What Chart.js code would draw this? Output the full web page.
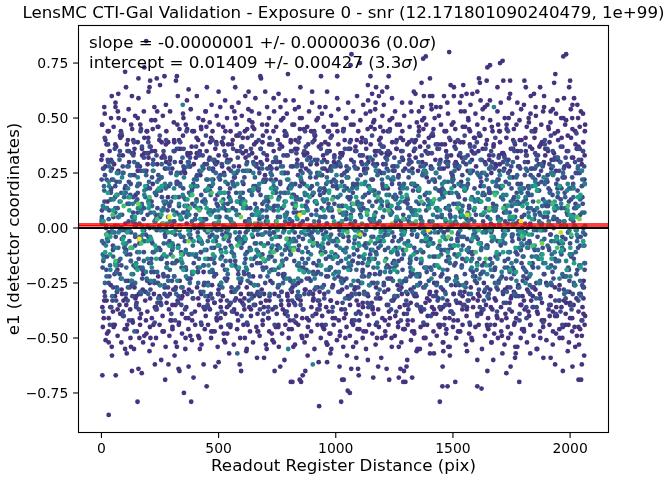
<!DOCTYPE html>
<html>
<head>
<meta charset="utf-8">
<script src="https://cdn.jsdelivr.net/npm/chart.js@4.4.1/dist/chart.umd.min.js"></script>
<style>
    html, body { margin: 0; background: #ffffff; }
    canvas { display: block; }
</style>
</head>
<body>
<canvas id="cti-chart" width="669" height="482"></canvas>
<script>
// Points are stored as flat pairs: readout distance (pix), e1 x 100.
// Grouped by the colour bin they show in the picture.

const tailHigh = [
    191,85, 1484,80, 1983,79, 1067,79, 1384,78, 1971,78, 1373,77, 1658,74, 1712,76, 1647,73, 1701,75, 1063,74, 1103,75, 101,71, 183,73,
    158,68, 208,67, 236,68, 269,69, 322,69, 561,68, 678,69, 681,68, 796,70, 937,69, 1006,69, 1148,69, 1226,69, 1402,68, 1366,66, 1611,68,
    1615,66, 1644,67, 1715,67, 1744,67, 1805,67, 1937,70, 1932,66, 2000,67, 318,67,
    105,64, 205,64, 250,65, 372,63, 450,64, 500,62, 571,64, 628,62, 699,62, 756,61, 849,64, 899,62, 963,62, 1137,65, 1172,64, 1219,64,
    1490,65, 1504,64, 1544,65, 1811,64, 1872,64, 1996,64, 1690,64, 1583,61, 1604,62, 1744,61, 1846,61, 1198,62, 1333,62, 1340,61, 1412,60,
    72,61, 201,62, 1155,61,
    44,60, 130,60, 158,59, 326,60, 365,58, 407,60, 528,58, 614,60, 657,59, 707,55, 785,58, 842,55, 899,57, 956,55, 1006,59, 1462,60,
    1537,60, 1558,61, 1091,60, 1138,58, 1184,60, 1376,60, 1402,60, 1504,60, 1658,58, 1704,57, 1739,59, 1775,57, 1832,60, 1889,60, 1946,58,
    1974,59, 2017,59, 2031,56, 1053,57, 1117,56, 1170,57, 1205,56, 1283,57, 1319,57, 1369,55, 1407,56, 1447,55, 1476,57, 1530,57, 1575,56,
    1618,58, 1647,56, 1803,56, 1853,55, 1889,55, 2010,56, 12,55, 60,57, 275,56, 470,56, 585,57, 735,59, 820,58, 1240,59, 1917,53, 2046,53,
    3,47, 14,52, 27,44, 41,50, 52,46, 70,53, 83,44, 97,49, 116,54, 131,45, 144,51, 166,47, 181,53, 195,44, 213,49, 226,55, 240,46, 262,51,
    277,44, 293,53, 309,48, 333,45, 348,52, 360,47, 381,54, 395,44, 414,50, 425,46, 444,53, 462,48, 474,44, 492,51, 507,55, 519,46, 536,50,
    551,44, 567,53, 578,47, 599,51, 612,44, 627,54, 644,48, 652,45, 673,52, 686,47, 705,44, 715,50, 737,53, 746,46, 767,49, 782,44, 791,52,
    815,47, 826,54, 847,45, 855,50, 878,46, 886,53, 908,44, 918,49, 941,52, 949,46, 971,44, 980,51, 1002,47, 1011,54, 1033,45, 1043,50,
    1065,47, 1074,53, 1096,44, 1105,49, 1128,52, 1136,45, 1160,48, 1168,54, 1190,46, 1199,51, 1222,44, 1230,49, 1253,53, 1261,47, 1284,44,
    1292,51, 1315,46, 1323,53, 1346,48, 1355,44, 1377,50, 1386,47, 1409,54, 1417,45, 1440,51, 1449,47, 1471,44, 1479,52, 1502,48, 1510,45,
    1534,53, 1542,46, 1565,50, 1573,44, 1596,52, 1604,47, 1627,54, 1635,45, 1659,49, 1666,46, 1690,53, 1698,44, 1721,50, 1729,47, 1753,52,
    1760,45, 1784,49, 1791,54, 1815,46, 1823,50, 1846,44, 1854,51, 1877,47, 1885,53, 1909,45, 1916,48, 1940,52, 1948,44, 1971,50, 1979,47,
    2003,54, 2010,45, 2034,50, 2041,46, 2055,52, 2063,44
];

const tailLow = [
    31,-85, 154,-79, 352,-75, 383,-79, 449,-72, 272,-69, 815,-70, 852,-70, 929,-81, 1023,-79, 1060,-75, 1034,-69, 1297,-70, 1444,-79,
    1455,-72, 1477,-72, 1510,-70, 1604,-72, 1622,-73, 1783,-70, 2047,-69, 1051,-74,
    4,-67, 61,-67, 393,-68, 130,-65, 158,-64, 172,-66, 228,-62, 255,-60, 286,-62, 329,-64, 333,-65, 372,-63, 436,-62, 486,-63, 500,-61,
    590,-62, 596,-65, 739,-65, 763,-63, 808,-70, 846,-69, 859,-67, 870,-65, 1027,-69, 1016,-63, 927,-61, 963,-61, 2036,-69, 2050,-62,
    2010,-63, 1969,-65, 1936,-62, 1728,-66, 1746,-63, 1647,-65, 1456,-63, 1326,-68, 1288,-70, 1269,-68, 1228,-69, 1160,-68, 1098,-67,
    1066,-64, 1095,-64, 1137,-60, 1181,-63, 1217,-64, 1276,-64, 1291,-65, 1302,-63,
    664,-59, 694,-59, 781,-60, 977,-57, 981,-55, 1305,-60, 1604,-60, 1672,-60, 1711,-57, 1765,-59, 1768,-57, 1917,-59, 1886,-59, 1345,-56,
    1359,-55, 1402,-57, 1419,-57, 1459,-56, 1487,-58, 1048,-58, 1088,-59, 1194,-59, 101,-55, 108,-57, 45,-58, 205,-56, 312,-58, 420,-55,
    545,-57, 618,-56, 705,-55, 880,-58, 1560,-56, 1830,-57, 1990,-56, 2060,-58, 1480,-54, 963,-53,
    6,-45, 18,-51, 30,-47, 44,-54, 57,-44, 69,-49, 85,-52, 99,-46, 110,-44, 124,-50, 139,-55, 151,-47, 165,-44, 178,-52, 192,-48, 207,-45,
    219,-53, 233,-50, 248,-44, 261,-47, 274,-54, 290,-49, 303,-45, 317,-52, 330,-44, 344,-48, 358,-55, 371,-46, 386,-51, 400,-44, 413,-49,
    427,-53, 441,-46, 455,-44, 468,-50, 483,-47, 496,-54, 510,-45, 523,-51, 537,-48, 551,-44, 565,-53, 579,-46, 592,-50, 606,-44, 620,-55,
    634,-47, 647,-52, 661,-45, 675,-49, 688,-44, 702,-53, 716,-47, 730,-51, 744,-45, 757,-54, 771,-48, 785,-44, 799,-50, 812,-46, 826,-53,
    840,-44, 854,-49, 867,-52, 881,-45, 895,-47, 909,-55, 922,-44, 936,-50, 950,-46, 964,-53, 977,-48, 991,-44, 1005,-51, 1019,-47,
    1032,-54, 1046,-45, 1060,-49, 1074,-44, 1087,-52, 1101,-46, 1115,-50, 1129,-55, 1142,-44, 1156,-48, 1170,-53, 1184,-45, 1197,-50,
    1211,-47, 1225,-44, 1239,-54, 1252,-49, 1266,-45, 1280,-52, 1294,-46, 1307,-44, 1321,-51, 1335,-48, 1349,-55, 1362,-45, 1376,-50,
    1390,-44, 1404,-53, 1417,-47, 1431,-49, 1445,-44, 1459,-52, 1472,-46, 1486,-54, 1500,-45, 1514,-50, 1527,-47, 1541,-44, 1555,-53,
    1569,-48, 1582,-51, 1596,-45, 1610,-44, 1624,-55, 1637,-49, 1651,-46, 1665,-52, 1679,-44, 1692,-50, 1706,-47, 1720,-53, 1734,-45,
    1747,-48, 1761,-44, 1775,-54, 1789,-50, 1802,-46, 1816,-52, 1830,-44, 1844,-49, 1857,-55, 1871,-47, 1885,-45, 1899,-51, 1912,-44,
    1926,-53, 1940,-48, 1954,-46, 1967,-50, 1981,-44, 1995,-52, 2009,-47, 2022,-54, 2036,-45, 2050,-49, 2062,-44
];

const corePurple = [
    0,31, 4,-36, 9,27, 13,-29, 17,40, 22,-33, 26,12, 31,-41, 35,35, 40,-26, 45,22, 49,-38, 54,29, 58,-31, 63,37, 68,-19, 72,26, 77,-35, 81,41, 86,-28,
    91,33, 95,-40, 100,18, 104,-32, 109,38, 114,-24, 118,30, 123,-37, 127,24, 132,-42, 137,34, 141,-27, 146,15, 150,-34, 155,39, 160,-30, 164,28, 169,-39, 173,36, 178,-21,
    183,41, 187,-33, 192,26, 196,-38, 201,32, 206,-25, 210,37, 215,-41, 219,20, 224,-30, 229,35, 233,-36, 238,29, 242,-22, 247,40, 252,-34, 256,23, 261,-40, 265,33, 270,-27,
    275,38, 279,-31, 284,14, 288,-37, 293,31, 298,-42, 302,27, 307,-28, 311,39, 316,-35, 321,21, 325,-33, 330,36, 334,-24, 339,30, 344,-39, 348,42, 353,-29, 357,25, 362,-36,
    367,34, 371,-41, 376,28, 380,-23, 385,37, 390,-32, 394,19, 399,-38, 403,32, 408,-27, 413,40, 417,-35, 422,24, 426,-30, 431,38, 436,-20, 440,29, 445,-40, 449,35, 454,-33,
    459,27, 463,-37, 468,41, 472,-26, 477,22, 482,-34, 486,36, 491,-41, 495,30, 500,-28, 505,16, 509,-36, 514,39, 518,-31, 523,25, 528,-39, 532,33, 537,-23, 541,38, 546,-35,
    551,31, 555,-29, 560,40, 564,-38, 569,23, 574,-32, 578,35, 583,-42, 587,28, 592,-25, 597,37, 601,-34, 606,20, 610,-37, 615,32, 620,-27, 624,41, 629,-30, 633,26, 638,-40,
    643,34, 647,-22, 652,38, 656,-35, 661,29, 666,-39, 670,17, 675,-31, 679,36, 684,-28, 689,42, 693,-36, 698,24, 702,-33, 707,31, 712,-41, 716,38, 721,-24, 725,27, 730,-37,
    735,35, 739,-30, 744,22, 748,-39, 753,40, 758,-26, 762,30, 767,-35, 771,37, 776,-21, 781,25, 785,-38, 790,33, 794,-31, 799,18, 804,-42, 808,39, 813,-29, 817,28, 822,-34,
    827,36, 831,-40, 836,31, 840,-25, 845,41, 850,-33, 854,21, 859,-37, 863,34, 868,-28, 873,27, 877,-41, 882,38, 886,-23, 891,32, 896,-36, 900,15, 905,-32, 909,40, 914,-39,
    919,29, 923,-27, 928,37, 932,-35, 937,24, 942,-40, 946,33, 951,-30, 955,39, 960,-22, 965,26, 969,-38, 974,35, 978,-33, 983,42, 988,-26, 992,30, 997,-41, 1001,21, 1006,-34,
    1011,38, 1015,-29, 1020,28, 1024,-37, 1029,34, 1034,-24, 1038,40, 1043,-39, 1047,23, 1052,-31, 1057,36, 1061,-35, 1066,31, 1070,-42, 1075,19, 1080,-28, 1084,37, 1089,-33, 1093,27, 1098,-38,
    1103,33, 1107,-25, 1112,41, 1116,-36, 1121,26, 1126,-30, 1130,36, 1135,-40, 1139,30, 1144,-21, 1149,38, 1153,-34, 1158,22, 1162,-39, 1167,35, 1172,-27, 1176,29, 1181,-37, 1185,40, 1190,-32,
    1195,25, 1199,-41, 1204,37, 1208,-29, 1213,32, 1218,-35, 1222,18, 1227,-38, 1231,34, 1236,-23, 1241,39, 1245,-33, 1250,28, 1254,-40, 1259,36, 1264,-26, 1268,24, 1273,-36, 1277,41, 1282,-30,
    1287,31, 1291,-39, 1296,27, 1300,-24, 1305,38, 1310,-37, 1314,33, 1319,-28, 1323,20, 1328,-42, 1333,35, 1337,-31, 1342,40, 1346,-35, 1351,26, 1356,-22, 1360,37, 1365,-38, 1369,30, 1374,-27,
    1379,39, 1383,-34, 1388,23, 1392,-40, 1397,34, 1402,-29, 1406,28, 1411,-36, 1415,42, 1420,-25, 1425,31, 1429,-39, 1434,36, 1438,-32, 1443,17, 1448,-37, 1452,38, 1457,-28, 1461,27, 1466,-41,
    1471,35, 1475,-23, 1480,30, 1484,-35, 1489,40, 1494,-38, 1498,24, 1503,-30, 1507,37, 1512,-26, 1517,29, 1521,-42, 1526,33, 1530,-34, 1535,21, 1540,-37, 1544,39, 1549,-29, 1553,32, 1558,-40,
    1563,26, 1567,-33, 1572,38, 1576,-27, 1581,31, 1586,-36, 1590,41, 1595,-22, 1599,28, 1604,-39, 1609,35, 1613,-31, 1618,19, 1622,-38, 1627,36, 1632,-25, 1636,30, 1641,-35, 1645,40, 1650,-41,
    1655,33, 1659,-28, 1664,25, 1668,-37, 1673,37, 1678,-32, 1682,29, 1687,-40, 1691,22, 1696,-24, 1701,39, 1705,-36, 1710,34, 1714,-30, 1719,27, 1724,-39, 1728,41, 1733,-27, 1737,31, 1742,-34,
    1747,36, 1751,-38, 1756,23, 1760,-29, 1765,38, 1770,-41, 1774,32, 1779,-26, 1783,28, 1788,-35, 1793,40, 1797,-31, 1802,18, 1806,-37, 1811,35, 1816,-23, 1820,30, 1825,-40, 1829,37, 1834,-33,
    1839,27, 1843,-36, 1848,41, 1852,-28, 1857,33, 1862,-39, 1866,24, 1871,-30, 1875,38, 1880,-34, 1885,29, 1889,-42, 1894,36, 1898,-25, 1903,21, 1908,-37, 1912,39, 1917,-31, 1921,31, 1926,-38,
    1931,34, 1935,-27, 1940,26, 1944,-40, 1949,40, 1954,-33, 1958,30, 1963,-36, 1967,37, 1972,-22, 1977,23, 1981,-39, 1986,35, 1990,-29, 1995,28, 2000,-35, 2004,41, 2009,-41, 2013,32, 2018,-26,
    2023,38, 2027,-32, 2032,25, 2036,-38, 2041,36, 2045,-30, 2050,29, 2053,-36, 2056,39, 2059,-27, 2062,33, 2064,-40, 2061,22, 2058,-24, 2055,35, 2052,-42
];

const densePurple = [
    3,33, 10,-41, 17,28, 24,-48, 31,44, 38,-36, 45,27, 52,-45, 59,38, 66,-29, 73,50, 80,-39, 87,42, 94,-33,
    106,-35, 113,40, 120,-27, 127,47, 134,-43, 141,36, 148,-31, 155,26, 162,-50, 169,45, 176,-28, 183,34, 190,-42, 197,29,
    200,41, 208,-32, 215,35, 222,-44, 229,49, 236,-37, 243,46, 250,-26, 257,32, 264,-47, 271,27, 278,-34, 285,39, 292,-30,
    303,-35, 310,40, 317,-27, 324,47, 331,-43, 338,36, 345,-31, 352,26, 359,-50, 366,45, 373,-28, 380,34, 387,-42, 394,29,
    406,41, 413,-32, 420,35, 427,-44, 434,49, 441,-37, 448,46, 455,-26, 462,32, 469,-47, 476,27, 483,-34, 490,39, 497,-30,
    500,33, 508,-41, 515,28, 522,-48, 529,44, 536,-36, 543,27, 550,-45, 557,38, 564,-29, 571,50, 578,-39, 585,42, 592,-33,
    603,41, 610,-32, 617,35, 624,-44, 631,49, 638,-37, 645,46, 652,-26, 659,32, 666,-47, 673,27, 680,-34, 687,39, 694,-30,
    706,33, 713,-41, 720,28, 727,-48, 734,44, 741,-36, 748,27, 755,-45, 762,38, 769,-29, 776,50, 783,-39, 790,42, 797,-33,
    800,-35, 808,40, 815,-27, 822,47, 829,-43, 836,36, 843,-31, 850,26, 857,-50, 864,45, 871,-28, 878,34, 885,-42, 892,29,
    903,-33, 910,42, 917,-39, 924,50, 931,-29, 938,38, 945,-45, 952,27, 959,-36, 966,44, 973,-48, 980,28, 987,-41, 994,33,
    1006,29, 1013,-42, 1020,34, 1027,-28, 1034,45, 1041,-50, 1048,26, 1055,-31, 1062,36, 1069,-43, 1076,47, 1083,-27, 1090,40, 1097,-35,
    1100,-30, 1108,39, 1115,-34, 1122,27, 1129,-47, 1136,32, 1143,-26, 1150,46, 1157,-37, 1164,49, 1171,-44, 1178,35, 1185,-32, 1192,41,
    1203,29, 1210,-42, 1217,34, 1224,-28, 1231,45, 1238,-50, 1245,26, 1252,-31, 1259,36, 1266,-43, 1273,47, 1280,-27, 1287,40, 1294,-35,
    1306,-30, 1313,39, 1320,-34, 1327,27, 1334,-47, 1341,32, 1348,-26, 1355,46, 1362,-37, 1369,49, 1376,-44, 1383,35, 1390,-32, 1397,41,
    1400,-33, 1408,42, 1415,-39, 1422,50, 1429,-29, 1436,38, 1443,-45, 1450,27, 1457,-36, 1464,44, 1471,-48, 1478,28, 1485,-41, 1492,33,
    1503,-30, 1510,39, 1517,-34, 1524,27, 1531,-47, 1538,32, 1545,-26, 1552,46, 1559,-37, 1566,49, 1573,-44, 1580,35, 1587,-32, 1594,41,
    1606,-33, 1613,42, 1620,-39, 1627,50, 1634,-29, 1641,38, 1648,-45, 1655,27, 1662,-36, 1669,44, 1676,-48, 1683,28, 1690,-41, 1697,33,
    1700,29, 1708,-42, 1715,34, 1722,-28, 1729,45, 1736,-50, 1743,26, 1750,-31, 1757,36, 1764,-43, 1771,47, 1778,-27, 1785,40, 1792,-35,
    1803,-33, 1810,41, 1817,-28, 1824,48, 1831,-44, 1838,36, 1845,-27, 1852,45, 1859,-38, 1866,29, 1873,-50, 1880,39, 1887,-42, 1894,33,
    1906,35, 1913,-40, 1920,27, 1927,-47, 1934,43, 1941,-36, 1948,31, 1955,-26, 1962,50, 1969,-45, 1976,28, 1983,-34, 1990,42, 1997,-29,
    2000,-41, 2008,32, 2015,-35, 2022,44, 2029,-49, 2036,37, 2043,-46, 2050,26, 2057,-32, 2064,47
];

const outerPurple = [
    3,47, 12,-33, 22,38, 31,-52, 41,31, 50,-44, 60,55, 69,-37, 79,42, 88,-30,
    107,-46, 117,35, 126,-54, 136,40, 145,-32, 155,50, 164,-41, 174,33, 183,-49, 193,44,
    200,34, 209,-50, 219,45, 228,-36, 238,53, 247,-31, 257,39, 266,-47, 276,30, 295,-42,
    303,-46, 312,35, 322,-54, 331,40, 341,-32, 350,50, 360,-41, 369,33, 379,-49, 388,44,
    407,34, 417,-50, 426,45, 436,-36, 445,53, 455,-31, 464,39, 474,-47, 483,30, 493,-42,
    500,47, 509,-33, 519,38, 528,-52, 538,31, 547,-44, 557,55, 566,-37, 576,42, 595,-30,
    603,34, 612,-50, 622,45, 631,-36, 641,53, 650,-31, 660,39, 669,-47, 679,30, 688,-42,
    707,47, 717,-33, 726,38, 736,-52, 745,31, 755,-44, 764,55, 774,-37, 783,42, 793,-30,
    800,-46, 809,35, 819,-54, 828,40, 838,-32, 847,50, 857,-41, 866,33, 876,-49, 895,44,
    903,-30, 912,42, 922,-37, 931,55, 941,-44, 950,31, 960,-52, 969,38, 979,-33, 988,47,
    1007,44, 1017,-49, 1026,33, 1036,-41, 1045,50, 1055,-32, 1064,40, 1074,-54, 1083,35, 1093,-46,
    1100,-42, 1109,30, 1119,-47, 1128,39, 1138,-31, 1147,53, 1157,-36, 1166,45, 1176,-50, 1195,34,
    1203,44, 1212,-49, 1222,33, 1231,-41, 1241,50, 1250,-32, 1260,40, 1269,-54, 1279,35, 1288,-46,
    1307,-42, 1317,30, 1326,-47, 1336,39, 1345,-31, 1355,53, 1364,-36, 1374,45, 1383,-50, 1393,34,
    1400,-30, 1409,42, 1419,-37, 1428,55, 1438,-44, 1447,31, 1457,-52, 1466,38, 1476,-33, 1495,47,
    1503,-42, 1512,30, 1522,-47, 1531,39, 1541,-31, 1550,53, 1560,-36, 1569,45, 1579,-50, 1588,34,
    1607,-30, 1617,42, 1626,-37, 1636,55, 1645,-44, 1655,31, 1664,-52, 1674,38, 1683,-33, 1693,47,
    1700,44, 1709,-49, 1719,33, 1728,-41, 1738,50, 1747,-32, 1757,40, 1766,-54, 1776,35, 1795,-46,
    1803,-47, 1812,33, 1822,-38, 1831,52, 1841,-31, 1850,44, 1860,-55, 1869,37, 1879,-42, 1888,30,
    1907,46, 1917,-35, 1926,54, 1936,-40, 1945,32, 1955,-50, 1964,41, 1974,-33, 1983,49, 1993,-44,
    2000,-34, 2009,50, 2019,-45, 2028,36, 2038,-53, 2047,31, 2057,-39
];

const coreBlue = [
    2,8, 8,-15, 15,24, 21,-3, 27,31, 34,-22, 40,13, 47,-33, 53,-9, 59,19, 66,-27, 72,5, 79,35, 85,-17, 91,28, 98,-1, 104,-30, 111,11, 117,21, 123,-12,
    130,-24, 136,33, 143,2, 149,-36, 155,16, 162,-7, 168,26, 175,-19, 181,9, 187,-29, 194,34, 200,-4, 207,18, 213,-14, 219,29, 226,-25, 232,6, 239,-34, 245,22, 251,-10,
    258,14, 264,-21, 271,32, 277,-2, 283,-31, 290,10, 296,25, 303,-16, 309,3, 315,-28, 322,36, 328,-8, 335,20, 341,-35, 347,-12, 354,27, 360,7, 367,-23, 373,30, 379,-5,
    386,17, 392,-32, 399,4, 405,23, 411,-18, 418,34, 424,-11, 431,12, 437,-26, 443,-1, 450,29, 456,-36, 463,8, 469,19, 475,-20, 482,31, 488,-6, 495,15, 501,-30, 507,24,
    514,-13, 520,1, 527,33, 533,-24, 539,11, 546,-4, 552,-34, 559,21, 565,28, 571,-15, 578,6, 584,-27, 591,35, 597,-9, 603,16, 610,-21, 616,-2, 623,26, 629,-33, 635,9,
    642,-17, 648,30, 655,-7, 661,18, 667,-29, 674,4, 680,36, 687,-12, 693,22, 699,-25, 706,13, 712,-36, 719,-3, 725,27, 731,-19, 738,10, 744,32, 751,-8, 757,-31, 763,20,
    770,1, 776,-22, 783,25, 789,-14, 795,33, 802,-5, 808,-28, 815,15, 821,7, 827,-35, 834,29, 840,-10, 847,19, 853,-24, 859,3, 866,35, 872,-16, 879,12, 885,-30, 891,23,
    898,-2, 904,-20, 911,31, 917,8, 923,-33, 930,17, 936,-11, 943,27, 949,-26, 955,5, 962,34, 968,-7, 975,-18, 981,21, 987,-36, 994,11, 1000,28, 1007,-13, 1013,2, 1019,-29,
    1026,24, 1032,-4, 1039,36, 1045,-23, 1051,14, 1058,-32, 1064,6, 1071,-15, 1077,30, 1083,-1, 1090,19, 1096,-27, 1103,9, 1109,33, 1115,-19, 1122,-8, 1128,25, 1135,-34, 1141,16, 1147,-12,
    1154,3, 1160,29, 1167,-21, 1173,12, 1179,-30, 1186,35, 1192,-6, 1199,20, 1205,-25, 1211,-3, 1218,27, 1224,-35, 1231,10, 1237,22, 1243,-16, 1250,32, 1256,-9, 1263,4, 1269,-28, 1275,18,
    1282,-14, 1288,26, 1295,-1, 1301,-33, 1307,13, 1314,31, 1320,-20, 1327,7, 1333,-27, 1339,36, 1346,-11, 1352,17, 1359,-36, 1365,2, 1371,24, 1378,-18, 1384,29, 1391,-6, 1397,-24, 1403,11,
    1410,34, 1416,-13, 1423,21, 1429,-31, 1435,5, 1442,27, 1448,-22, 1455,15, 1461,-2, 1467,-35, 1474,32, 1480,-10, 1487,8, 1493,-26, 1499,23, 1506,-17, 1512,36, 1519,-5, 1525,14, 1531,-29,
    1538,1, 1544,30, 1551,-21, 1557,18, 1563,-33, 1570,9, 1576,25, 1583,-12, 1589,-4, 1595,34, 1602,-25, 1608,13, 1615,-36, 1621,21, 1627,6, 1634,-16, 1640,29, 1647,-8, 1653,-30, 1659,16,
    1666,-1, 1672,33, 1679,-19, 1685,10, 1691,-28, 1698,26, 1704,-7, 1711,19, 1717,-34, 1723,3, 1730,31, 1736,-14, 1743,23, 1749,-23, 1755,-3, 1762,35, 1768,-11, 1775,12, 1781,-31, 1787,27,
    1794,5, 1800,-18, 1807,30, 1813,-36, 1819,16, 1826,-6, 1832,24, 1839,-27, 1845,8, 1851,34, 1858,-13, 1864,20, 1871,-32, 1877,-1, 1883,28, 1890,-21, 1896,11, 1903,36, 1909,-9, 1915,17,
    1922,-26, 1928,4, 1935,32, 1941,-15, 1947,22, 1954,-33, 1960,13, 1967,-4, 1973,27, 1979,-22, 1986,7, 1992,35, 1999,-12, 2005,18, 2011,-30, 2018,1, 2024,25, 2031,-19, 2037,31, 2043,-8,
    2050,14, 2056,-27, 2062,20, 2064,-3
];

const denseBlue = [
    1,3, 5,-18, 7,27, 10,-7, 13,12, 15,-31, 20,0, 22,22, 24,-13, 28,38, 31,-25, 33,8, 38,-2, 40,17, 42,-36, 46,30, 49,-10, 51,5, 56,-21, 58,14, 61,-4, 64,21, 67,-29, 69,9, 74,-15, 76,33, 79,-1, 83,-23, 85,16, 88,6, 92,-38, 94,25, 98,-9,
    102,2, 103,19, 108,-12, 111,28, 112,-33, 117,11, 119,-6, 123,15, 126,-2, 129,-26, 130,34, 135,7, 137,-17, 141,24, 144,-8, 147,1, 148,-35, 153,13, 155,29, 159,-14, 162,-5, 163,20, 168,-30, 171,10, 173,37, 177,-19, 180,4, 181,-11, 186,26, 189,-3, 191,18, 195,-24, 197,6,
    200,39, 204,-16, 206,0, 209,-28, 214,12, 216,23, 218,-7, 221,31, 225,-20, 227,3, 232,-37, 234,15, 236,-1, 239,9, 243,24, 245,-9, 250,5, 252,-32, 254,17, 257,-14, 260,2, 265,35, 266,-22, 270,11, 272,-4, 275,27, 278,-18, 282,8, 284,-27, 287,19, 290,-6, 293,32, 296,-12,
    301,1, 305,-8, 307,14, 310,-22, 313,30, 315,-3, 320,7, 322,-15, 324,21, 328,-34, 331,10, 333,-1, 338,25, 340,-11, 342,4, 346,-27, 349,18, 351,36, 356,-6, 358,13, 361,-19, 364,2, 367,-30, 369,8, 374,16, 376,-12, 379,28, 383,-5, 385,-39, 388,11, 392,20, 394,-16, 398,0,
    402,-13, 403,6, 408,24, 411,-2, 412,-20, 417,33, 419,9, 423,-29, 426,15, 429,-7, 430,1, 435,27, 437,-17, 441,-36, 444,12, 447,4, 448,-10, 453,22, 455,-25, 459,31, 462,-4, 463,17, 468,-14, 471,7, 473,-32, 477,26, 480,2, 481,-9, 486,13, 489,-21, 491,38, 495,-1, 497,10,
    500,5, 504,-26, 506,18, 509,-10, 514,29, 516,-3, 518,-17, 521,11, 525,35, 527,-23, 532,0, 534,8, 536,-33, 539,20, 543,-6, 545,14, 550,-15, 552,26, 554,3, 557,-38, 560,9, 565,-12, 566,23, 570,1, 572,-28, 575,16, 578,-5, 582,32, 584,-19, 587,6, 590,-2, 593,12, 596,-24,
    601,-7, 605,13, 607,-35, 610,23, 613,3, 615,-14, 620,9, 622,30, 624,-1, 628,-21, 631,17, 633,-9, 638,36, 640,-30, 642,6, 646,-4, 649,19, 651,-26, 656,11, 658,0, 661,28, 664,-16, 667,2, 669,-11, 674,25, 676,-37, 679,15, 683,-3, 685,8, 688,-18, 692,34, 694,-8, 698,21,
    702,3, 703,-18, 708,27, 711,-7, 712,12, 717,-31, 719,0, 723,22, 726,-13, 729,38, 730,-25, 735,8, 737,-2, 741,17, 744,-36, 747,30, 748,-10, 753,5, 755,-21, 759,14, 762,-4, 763,21, 768,-29, 771,9, 773,-15, 777,33, 780,-1, 781,-23, 786,16, 789,6, 791,-38, 795,25, 797,-9,
    800,2, 804,19, 806,-12, 809,28, 814,-33, 816,11, 818,-6, 821,15, 825,-2, 827,-26, 832,34, 834,7, 836,-17, 839,24, 843,-8, 845,1, 850,-35, 852,13, 854,29, 857,-14, 860,-5, 865,20, 866,-30, 870,10, 872,37, 875,-19, 878,4, 882,-11, 884,26, 887,-3, 890,18, 893,-24, 896,6,
    901,39, 905,-16, 907,0, 910,-28, 913,12, 915,23, 920,-7, 922,31, 924,-20, 928,3, 931,-37, 933,15, 938,-1, 940,9, 942,24, 946,-9, 949,5, 951,-32, 956,17, 958,-14, 961,2, 964,35, 967,-22, 969,11, 974,-4, 976,27, 979,-18, 983,8, 985,-27, 988,19, 992,-6, 994,32, 998,-12,
    1002,1, 1003,-8, 1008,14, 1011,-22, 1012,30, 1017,-3, 1019,7, 1023,-15, 1026,21, 1029,-34, 1030,10, 1035,-1, 1037,25, 1041,-11, 1044,4, 1047,-27, 1048,18, 1053,36, 1055,-6, 1059,13, 1062,-19, 1063,2, 1068,-30, 1071,8, 1073,16, 1077,-12, 1080,28, 1081,-5, 1086,-39, 1089,11, 1091,20, 1095,-16, 1097,0,
    1100,-13, 1104,6, 1106,24, 1109,-2, 1114,-20, 1116,33, 1118,9, 1121,-29, 1125,15, 1127,-7, 1132,1, 1134,27, 1136,-17, 1139,-36, 1143,12, 1145,4, 1150,-10, 1152,22, 1154,-25, 1157,31, 1160,-4, 1165,17, 1166,-14, 1170,7, 1172,-32, 1175,26, 1178,2, 1182,-9, 1184,13, 1187,-21, 1190,38, 1193,-1, 1196,10,
    1201,5, 1205,-26, 1207,18, 1210,-10, 1213,29, 1215,-3, 1220,-17, 1222,11, 1224,35, 1228,-23, 1231,0, 1233,8, 1238,-33, 1240,20, 1242,-6, 1246,14, 1249,-15, 1251,26, 1256,3, 1258,-38, 1261,9, 1264,-12, 1267,23, 1269,1, 1274,-28, 1276,16, 1279,-5, 1283,32, 1285,-19, 1288,6, 1292,-2, 1294,12, 1298,-24,
    1302,-7, 1303,13, 1308,-35, 1311,23, 1312,3, 1317,-14, 1319,9, 1323,30, 1326,-1, 1329,-21, 1330,17, 1335,-9, 1337,36, 1341,-30, 1344,6, 1347,-4, 1348,19, 1353,-26, 1355,11, 1359,0, 1362,28, 1363,-16, 1368,2, 1371,-11, 1373,25, 1377,-37, 1380,15, 1381,-3, 1386,8, 1389,-18, 1391,34, 1395,-8, 1397,21,
    1400,3, 1404,-18, 1406,27, 1409,-7, 1414,12, 1416,-31, 1418,0, 1421,22, 1425,-13, 1427,38, 1432,-25, 1434,8, 1436,-2, 1439,17, 1443,-36, 1445,30, 1450,-10, 1452,5, 1454,-21, 1457,14, 1460,-4, 1465,21, 1466,-29, 1470,9, 1472,-15, 1475,33, 1478,-1, 1482,-23, 1484,16, 1487,6, 1490,-38, 1493,25, 1496,-9,
    1501,2, 1505,19, 1507,-12, 1510,28, 1513,-33, 1515,11, 1520,-6, 1522,15, 1524,-2, 1528,-26, 1531,34, 1533,7, 1538,-17, 1540,24, 1542,-8, 1546,1, 1549,-35, 1551,13, 1556,29, 1558,-14, 1561,-5, 1564,20, 1567,-30, 1569,10, 1574,37, 1576,-19, 1579,4, 1583,-11, 1585,26, 1588,-3, 1592,18, 1594,-24, 1598,6,
    1602,39, 1603,-16, 1608,0, 1611,-28, 1612,12, 1617,23, 1619,-7, 1623,31, 1626,-20, 1629,3, 1630,-37, 1635,15, 1637,-1, 1641,9, 1644,24, 1647,-9, 1648,5, 1653,-32, 1655,17, 1659,-14, 1662,2, 1663,35, 1668,-22, 1671,11, 1673,-4, 1677,27, 1680,-18, 1681,8, 1686,-27, 1689,19, 1691,-6, 1695,32, 1697,-12,
    1700,1, 1704,-8, 1706,14, 1709,-22, 1714,30, 1716,-3, 1718,7, 1721,-15, 1725,21, 1727,-34, 1732,10, 1734,-1, 1736,25, 1739,-11, 1743,4, 1745,-27, 1750,18, 1752,36, 1754,-6, 1757,13, 1760,-19, 1765,2, 1766,-30, 1770,8, 1772,16, 1775,-12, 1778,28, 1782,-5, 1784,-39, 1787,11, 1790,20, 1793,-16, 1796,0,
    1801,-13, 1805,6, 1807,24, 1810,-2, 1813,-20, 1815,33, 1820,9, 1822,-29, 1824,15, 1828,-7, 1831,1, 1833,27, 1838,-17, 1840,-36, 1842,12, 1846,4, 1849,-10, 1851,22, 1856,-25, 1858,31, 1861,-4, 1864,17, 1867,-14, 1869,7, 1874,-32, 1876,26, 1879,2, 1883,-9, 1885,13, 1888,-21, 1892,38, 1894,-1, 1898,10,
    1902,5, 1903,-26, 1908,18, 1911,-10, 1912,29, 1917,-3, 1919,-17, 1923,11, 1926,35, 1929,-23, 1930,0, 1935,8, 1937,-33, 1941,20, 1944,-6, 1947,14, 1948,-15, 1953,26, 1955,3, 1959,-38, 1962,9, 1963,-12, 1968,23, 1971,1, 1973,-28, 1977,16, 1980,-5, 1981,32, 1986,-19, 1989,6, 1991,-2, 1995,12, 1997,-24,
    2000,-7, 2004,13, 2006,-35, 2009,23, 2014,3, 2016,-14, 2018,9, 2021,30, 2025,-1, 2027,-21, 2032,17, 2034,-9, 2036,36, 2039,-30, 2043,6, 2045,-4, 2050,19, 2052,-26, 2054,11, 2057,0, 2060,28, 2063,-16
];

const shoulderBlue = [
    1,22, 8,-38, 14,41, 21,-19, 29,30, 36,-44, 42,18, 50,-27, 57,36, 63,-33, 71,25, 78,-21, 85,43, 92,-40,
    104,-24, 111,35, 118,-42, 125,20, 132,-31, 139,39, 146,-18, 153,28, 160,-37, 167,44, 174,-23, 181,32, 188,-29, 195,19,
    206,37, 213,-20, 220,26, 227,-43, 235,33, 241,-25, 249,42, 255,-35, 262,19, 269,-30, 276,40, 284,-22, 290,29, 298,-39,
    301,-24, 308,35, 314,-42, 321,20, 329,-31, 336,39, 342,-18, 350,28, 357,-37, 363,44, 371,-23, 378,32, 385,-29, 392,19,
    404,37, 411,-20, 418,26, 425,-43, 432,33, 439,-25, 446,42, 453,-35, 460,19, 467,-30, 474,40, 481,-22, 488,29, 495,-39,
    506,22, 513,-38, 520,41, 527,-19, 535,30, 541,-44, 549,18, 555,-27, 562,36, 569,-33, 576,25, 584,-21, 590,43, 598,-40,
    601,37, 608,-20, 614,26, 621,-43, 629,33, 636,-25, 642,42, 650,-35, 657,19, 663,-30, 671,40, 678,-22, 685,29, 692,-39,
    704,22, 711,-38, 718,41, 725,-19, 732,30, 739,-44, 746,18, 753,-27, 760,36, 767,-33, 774,25, 781,-21, 788,43, 795,-40,
    806,-24, 813,35, 820,-42, 827,20, 835,-31, 841,39, 849,-18, 855,28, 862,-37, 869,44, 876,-23, 884,32, 890,-29, 898,19,
    901,-40, 908,43, 914,-21, 921,25, 929,-33, 936,36, 942,-27, 950,18, 957,-44, 963,30, 971,-19, 978,41, 985,-38, 992,22,
    1004,19, 1011,-29, 1018,32, 1025,-23, 1032,44, 1039,-37, 1046,28, 1053,-18, 1060,39, 1067,-31, 1074,20, 1081,-42, 1088,35, 1095,-24,
    1106,-39, 1113,29, 1120,-22, 1127,40, 1135,-30, 1141,19, 1149,-35, 1155,42, 1162,-25, 1169,33, 1176,-43, 1184,26, 1190,-20, 1198,37,
    1201,19, 1208,-29, 1214,32, 1221,-23, 1229,44, 1236,-37, 1242,28, 1250,-18, 1257,39, 1263,-31, 1271,20, 1278,-42, 1285,35, 1292,-24,
    1304,-39, 1311,29, 1318,-22, 1325,40, 1332,-30, 1339,19, 1346,-35, 1353,42, 1360,-25, 1367,33, 1374,-43, 1381,26, 1388,-20, 1395,37,
    1406,-40, 1413,43, 1420,-21, 1427,25, 1435,-33, 1441,36, 1449,-27, 1455,18, 1462,-44, 1469,30, 1476,-19, 1484,41, 1490,-38, 1498,22,
    1501,-39, 1508,29, 1514,-22, 1521,40, 1529,-30, 1536,19, 1542,-35, 1550,42, 1557,-25, 1563,33, 1571,-43, 1578,26, 1585,-20, 1592,37,
    1604,-40, 1611,43, 1618,-21, 1625,25, 1632,-33, 1639,36, 1646,-27, 1653,18, 1660,-44, 1667,30, 1674,-19, 1681,41, 1688,-38, 1695,22,
    1706,19, 1713,-29, 1720,32, 1727,-23, 1735,44, 1741,-37, 1749,28, 1755,-18, 1762,39, 1769,-31, 1776,20, 1784,-42, 1790,35, 1798,-24,
    1801,-22, 1808,38, 1814,-41, 1821,19, 1829,-30, 1836,44, 1842,-18, 1850,27, 1857,-36, 1863,33, 1871,-25, 1878,21, 1885,-43, 1892,40,
    1904,24, 1911,-35, 1918,42, 1925,-20, 1932,31, 1939,-39, 1946,18, 1953,-28, 1960,37, 1967,-44, 1974,23, 1981,-32, 1988,29, 1995,-19,
    2006,-37, 2013,20, 2020,-26, 2027,43, 2035,-33, 2041,25, 2049,-42, 2055,35, 2062,-19
];

const centreBlue = [
    2,5, 11,-13, 21,9, 30,-2, 40,16, 49,-8, 59,1, 68,-17, 78,12, 87,-5,
    106,-10, 116,3, 125,-15, 135,14, 144,-4, 154,7, 163,-18, 173,10, 182,-1, 192,18,
    204,13, 214,-6, 223,-11, 233,4, 242,17, 252,-14, 261,8, 271,-3, 280,-16, 290,11,
    302,-10, 311,3, 321,-15, 330,14, 340,-4, 349,7, 359,-18, 368,10, 378,-1, 387,18,
    406,13, 416,-6, 425,-11, 435,4, 444,17, 454,-14, 463,8, 473,-3, 482,-16, 492,11,
    504,5, 514,-13, 523,9, 533,-2, 542,16, 552,-8, 561,1, 571,-17, 580,12, 590,-5,
    602,13, 611,-6, 621,-11, 630,4, 640,17, 649,-14, 659,8, 668,-3, 678,-16, 687,11,
    706,5, 716,-13, 725,9, 735,-2, 744,16, 754,-8, 763,1, 773,-17, 782,12, 792,-5,
    804,-10, 814,3, 823,-15, 833,14, 842,-4, 852,7, 861,-18, 871,10, 880,-1, 890,18,
    902,-5, 911,12, 921,-17, 930,1, 940,-8, 949,16, 959,-2, 968,9, 978,-13, 987,5,
    1006,18, 1016,-1, 1025,10, 1035,-18, 1044,7, 1054,-4, 1063,14, 1073,-15, 1082,3, 1092,-10,
    1104,11, 1114,-16, 1123,-3, 1133,8, 1142,-14, 1152,17, 1161,4, 1171,-11, 1180,-6, 1190,13,
    1202,18, 1211,-1, 1221,10, 1230,-18, 1240,7, 1249,-4, 1259,14, 1268,-15, 1278,3, 1287,-10,
    1306,11, 1316,-16, 1325,-3, 1335,8, 1344,-14, 1354,17, 1363,4, 1373,-11, 1382,-6, 1392,13,
    1404,-5, 1414,12, 1423,-17, 1433,1, 1442,-8, 1452,16, 1461,-2, 1471,9, 1480,-13, 1490,5,
    1502,11, 1511,-16, 1521,-3, 1530,8, 1540,-14, 1549,17, 1559,4, 1568,-11, 1578,-6, 1587,13,
    1606,-5, 1616,12, 1625,-17, 1635,1, 1644,-8, 1654,16, 1663,-2, 1673,9, 1682,-13, 1692,5,
    1704,18, 1714,-1, 1723,10, 1733,-18, 1742,7, 1752,-4, 1761,14, 1771,-15, 1780,3, 1790,-10,
    1802,-5, 1811,13, 1821,-9, 1830,2, 1840,-16, 1849,8, 1859,-1, 1868,17, 1878,-12, 1887,5,
    1906,10, 1916,-3, 1925,15, 1935,-14, 1944,4, 1954,-7, 1963,18, 1973,-10, 1982,1, 1992,-18,
    2004,-13, 2014,6, 2023,11, 2033,-4, 2042,-17, 2052,14, 2061,-8
];

const coreSteel = [
    3,-6, 12,17, 22,-22, 31,4, 40,26, 50,-13, 59,9, 69,-28, 78,21, 87,-1, 97,14, 106,-18, 116,28, 125,-9, 134,3, 144,-25, 153,19, 163,-4, 172,11, 181,-15,
    191,24, 200,-30, 210,7, 219,-11, 228,16, 238,-20, 247,1, 257,29, 266,-7, 275,12, 285,-24, 294,20, 304,-2, 313,-16, 322,25, 332,6, 341,-27, 351,14, 360,-10, 369,30,
    379,-3, 388,-21, 398,10, 407,22, 416,-14, 426,2, 435,-29, 445,17, 454,-6, 463,27, 473,-19, 482,8, 492,-1, 501,23, 510,-25, 520,13, 529,-9, 539,30, 548,4, 557,-17,
    567,19, 576,-28, 586,-4, 595,11, 604,26, 614,-12, 623,1, 633,-22, 642,15, 651,29, 661,-7, 670,6, 680,-30, 689,21, 698,-15, 708,10, 717,-2, 727,24, 736,-19, 745,3,
    755,-26, 764,16, 774,28, 783,-10, 792,7, 802,-23, 811,20, 821,-5, 830,13, 839,-29, 849,2, 858,25, 868,-16, 877,9, 886,-1, 896,30, 905,-21, 915,12, 924,-8, 933,18,
    943,-27, 952,5, 962,23, 971,-13, 980,-3, 990,28, 999,-20, 1009,14, 1018,1, 1027,-25, 1037,19, 1046,-9, 1056,27, 1065,-17, 1074,8, 1084,-30, 1093,22, 1103,-4, 1112,11, 1121,-14,
    1131,29, 1140,-22, 1150,3, 1159,17, 1168,-7, 1178,24, 1187,-28, 1197,12, 1206,-1, 1215,-18, 1225,26, 1234,6, 1244,-24, 1253,15, 1262,-11, 1272,30, 1281,-3, 1291,20, 1300,-29, 1309,9,
    1319,-15, 1328,25, 1338,2, 1347,-21, 1356,18, 1366,-6, 1375,28, 1385,-26, 1394,10, 1403,-2, 1413,22, 1422,-17, 1432,5, 1441,29, 1450,-12, 1460,14, 1469,-30, 1479,21, 1488,-8, 1497,1,
    1507,26, 1516,-23, 1526,11, 1535,-4, 1544,19, 1554,-27, 1563,7, 1573,30, 1582,-14, 1591,3, 1601,-19, 1610,24, 1620,-10, 1629,16, 1638,-28, 1648,-1, 1657,27, 1667,-16, 1676,8, 1685,21,
    1695,-25, 1704,4, 1714,13, 1723,-7, 1732,29, 1742,-20, 1751,10, 1761,-30, 1770,23, 1779,-3, 1789,17, 1798,-13, 1808,2, 1817,26, 1826,-22, 1836,15, 1845,-9, 1855,28, 1864,-18, 1873,6,
    1883,-1, 1892,20, 1902,-26, 1911,12, 1920,-6, 1930,25, 1939,-15, 1949,3, 1958,30, 1967,-21, 1977,9, 1986,-29, 1996,18, 2005,-4, 2014,14, 2024,-11, 2033,27, 2043,-24, 2052,7, 2061,-16,
    141,-47, 580,-57
];

const denseSteel = [
    2,4, 6,-12, 11,19, 15,-25, 19,1, 24,9, 28,-6, 33,28, 37,-17, 41,13, 46,-31, 50,22, 55,-2, 59,7, 63,-20, 68,15, 72,-9, 77,31, 81,-14, 86,0, 90,25, 95,-4,
    100,-8, 104,16, 109,-1, 113,-27, 118,11, 122,24, 126,-15, 131,5, 135,-21, 140,30, 144,-3, 148,12, 153,-11, 157,20, 162,2, 166,-29, 170,8, 175,-18, 179,26, 184,-6, 188,14, 193,-23,
    203,21, 208,-5, 212,-16, 216,10, 221,29, 225,-24, 230,3, 234,-10, 239,17, 243,-32, 247,6, 252,-1, 256,23, 261,-13, 265,9, 269,-26, 274,18, 278,0, 283,-7, 287,27, 292,-19, 297,12,
    302,-2, 306,8, 311,-22, 315,14, 319,-30, 324,25, 328,-9, 333,1, 337,19, 341,-15, 346,32, 350,-4, 355,10, 359,-18, 363,5, 368,28, 372,-12, 377,-25, 381,16, 386,3, 390,-8, 395,22,
    400,4, 404,-12, 409,19, 413,-25, 418,1, 422,9, 426,-6, 431,28, 435,-17, 440,13, 444,-31, 448,22, 453,-2, 457,7, 462,-20, 466,15, 470,-9, 475,31, 479,-14, 484,0, 488,25, 493,-4,
    503,-8, 508,16, 512,-1, 516,-27, 521,11, 525,24, 530,-15, 534,5, 539,-21, 543,30, 547,-3, 552,12, 556,-11, 561,20, 565,2, 569,-29, 574,8, 578,-18, 583,26, 587,-6, 592,14, 597,-23,
    602,21, 606,-5, 611,-16, 615,10, 619,29, 624,-24, 628,3, 633,-10, 637,17, 641,-32, 646,6, 650,-1, 655,23, 659,-13, 663,9, 668,-26, 672,18, 677,0, 681,-7, 686,27, 690,-19, 695,12,
    700,-2, 704,8, 709,-22, 713,14, 718,-30, 722,25, 726,-9, 731,1, 735,19, 740,-15, 744,32, 748,-4, 753,10, 757,-18, 762,5, 766,28, 770,-12, 775,-25, 779,16, 784,3, 788,-8, 793,22,
    803,4, 808,-12, 812,19, 816,-25, 821,1, 825,9, 830,-6, 834,28, 839,-17, 843,13, 847,-31, 852,22, 856,-2, 861,7, 865,-20, 869,15, 874,-9, 878,31, 883,-14, 887,0, 892,25, 897,-4,
    902,-8, 906,16, 911,-1, 915,-27, 919,11, 924,24, 928,-15, 933,5, 937,-21, 941,30, 946,-3, 950,12, 955,-11, 959,20, 963,2, 968,-29, 972,8, 977,-18, 981,26, 986,-6, 990,14, 995,-23,
    1000,21, 1004,-5, 1009,-16, 1013,10, 1018,29, 1022,-24, 1026,3, 1031,-10, 1035,17, 1040,-32, 1044,6, 1048,-1, 1053,23, 1057,-13, 1062,9, 1066,-26, 1070,18, 1075,0, 1079,-7, 1084,27, 1088,-19, 1093,12,
    1103,-2, 1108,8, 1112,-22, 1116,14, 1121,-30, 1125,25, 1130,-9, 1134,1, 1139,19, 1143,-15, 1147,32, 1152,-4, 1156,10, 1161,-18, 1165,5, 1169,28, 1174,-12, 1178,-25, 1183,16, 1187,3, 1192,-8, 1197,22,
    1202,-4, 1206,25, 1211,0, 1215,-14, 1219,31, 1224,-9, 1228,15, 1233,-20, 1237,7, 1241,-2, 1246,22, 1250,-31, 1255,13, 1259,-17, 1263,28, 1268,-6, 1272,9, 1277,1, 1281,-25, 1286,19, 1290,-12, 1295,4,
    1300,-23, 1304,14, 1309,-6, 1313,26, 1318,-18, 1322,8, 1326,-29, 1331,2, 1335,20, 1340,-11, 1344,12, 1348,-3, 1353,30, 1357,-21, 1362,5, 1366,-15, 1370,24, 1375,11, 1379,-27, 1384,-1, 1388,16, 1393,-8,
    1403,12, 1408,-19, 1412,27, 1416,-7, 1421,0, 1425,18, 1430,-26, 1434,9, 1439,-13, 1443,23, 1447,-1, 1452,6, 1456,-32, 1461,17, 1465,-10, 1469,3, 1474,-24, 1478,29, 1483,10, 1487,-16, 1492,-5, 1497,21,
    1502,22, 1506,-8, 1511,3, 1515,16, 1519,-25, 1524,-12, 1528,28, 1533,5, 1537,-18, 1541,10, 1546,-4, 1550,32, 1555,-15, 1559,19, 1563,1, 1568,-9, 1572,25, 1577,-30, 1581,14, 1586,-22, 1590,8, 1595,-2,
    1600,-4, 1604,25, 1609,0, 1613,-14, 1618,31, 1622,-9, 1626,15, 1631,-20, 1635,7, 1640,-2, 1644,22, 1648,-31, 1653,13, 1657,-17, 1662,28, 1666,-6, 1670,9, 1675,1, 1679,-25, 1684,19, 1688,-12, 1693,4,
    1703,-23, 1708,14, 1712,-6, 1716,26, 1721,-18, 1725,8, 1730,-29, 1734,2, 1739,20, 1743,-11, 1747,12, 1752,-3, 1756,30, 1761,-21, 1765,5, 1769,-15, 1774,24, 1778,11, 1783,-27, 1787,-1, 1792,16, 1797,-8,
    1802,12, 1806,-19, 1811,27, 1815,-7, 1819,0, 1824,18, 1828,-26, 1833,9, 1837,-13, 1841,23, 1846,-1, 1850,6, 1855,-32, 1859,17, 1863,-10, 1868,3, 1872,-24, 1877,29, 1881,10, 1886,-16, 1890,-5, 1895,21,
    1900,22, 1904,-8, 1909,3, 1913,16, 1918,-25, 1922,-12, 1926,28, 1931,5, 1935,-18, 1940,10, 1944,-4, 1948,32, 1953,-15, 1957,19, 1962,1, 1966,-9, 1970,25, 1975,-30, 1979,14, 1984,-22, 1988,8, 1993,-2,
    2003,4, 2008,-12, 2012,19, 2016,-25, 2021,1, 2025,9, 2030,-6, 2034,28, 2039,-17, 2043,13, 2047,-31, 2052,22, 2056,-2, 2061,7
];

const coreTeal = [
    6,10, 19,-8, 33,19, 47,-2, 60,-16, 74,5, 88,23, 101,-11, 115,14, 129,-21, 142,1, 156,9, 170,-5, 183,17, 197,-14, 211,-24, 224,7, 238,21, 252,-1,
    265,12, 279,-18, 293,3, 306,-9, 320,24, 334,-3, 347,15, 361,-22, 375,6, 388,-12, 402,19, 416,0, 429,-7, 443,11, 457,-17, 470,22, 484,-4, 498,8, 511,-25,
    525,16, 539,-1, 552,4, 566,-13, 580,20, 593,-6, 607,10, 621,-19, 634,2, 648,25, 662,-10, 675,7, 689,-3, 703,14, 716,-20, 730,-8, 744,18, 757,1, 771,-15,
    785,5, 798,22, 812,-6, 826,11, 839,-23, 853,-2, 867,16, 880,8, 894,-12, 908,3, 921,20, 935,-17, 949,-5, 962,13, 976,0, 990,-21, 1003,24, 1017,-9, 1031,6,
    1044,-14, 1058,17, 1072,2, 1085,-4, 1099,10, 1113,-25, 1126,21, 1140,-7, 1154,4, 1167,15, 1181,-16, 1195,-1, 1208,8, 1222,23, 1236,-11, 1249,1, 1263,-20, 1277,12, 1290,-3,
    1304,18, 1318,-8, 1331,6, 1345,-22, 1359,14, 1372,-2, 1386,25, 1400,-13, 1413,3, 1427,9, 1441,-18, 1454,20, 1468,-5, 1482,0, 1495,16, 1509,-24, 1523,11, 1536,-10, 1550,5,
    1564,22, 1577,-15, 1591,-1, 1605,13, 1618,-7, 1632,19, 1646,-21, 1659,4, 1673,8, 1687,-12, 1700,24, 1714,-4, 1728,15, 1741,-19, 1755,2, 1769,11, 1782,-9, 1796,18, 1810,-25,
    1823,7, 1837,-3, 1851,21, 1864,-14, 1878,1, 1892,12, 1905,-18, 1919,25, 1933,-6, 1946,9, 1960,-11, 1974,3, 1987,17, 2001,-22, 2015,5, 2028,-1, 2042,14, 2056,-8, 2063,20,
    347,56, 1675,55, 797,-55, 902,-62
];

const denseTeal = [
    3,2, 10,-14, 17,9, 24,-5, 31,21, 38,-19, 45,0, 52,13, 59,-9, 66,25, 73,-2, 80,6, 87,-23, 94,16,
    106,-7, 113,18, 120,-1, 127,-24, 134,11, 141,4, 148,-16, 155,23, 162,-11, 169,7, 176,-3, 183,15, 190,-20, 197,1,
    200,12, 208,-4, 215,-18, 222,26, 229,3, 236,-10, 243,17, 250,-26, 257,8, 264,-1, 271,20, 278,-13, 285,5, 292,-8,
    303,-7, 310,18, 317,-1, 324,-24, 331,11, 338,4, 345,-16, 352,23, 359,-11, 366,7, 373,-3, 380,15, 387,-20, 394,1,
    406,12, 413,-4, 420,-18, 427,26, 434,3, 441,-10, 448,17, 455,-26, 462,8, 469,-1, 476,20, 483,-13, 490,5, 497,-8,
    500,2, 508,-14, 515,9, 522,-5, 529,21, 536,-19, 543,0, 550,13, 557,-9, 564,25, 571,-2, 578,6, 585,-23, 592,16,
    603,12, 610,-4, 617,-18, 624,26, 631,3, 638,-10, 645,17, 652,-26, 659,8, 666,-1, 673,20, 680,-13, 687,5, 694,-8,
    706,2, 713,-14, 720,9, 727,-5, 734,21, 741,-19, 748,0, 755,13, 762,-9, 769,25, 776,-2, 783,6, 790,-23, 797,16,
    800,-7, 808,18, 815,-1, 822,-24, 829,11, 836,4, 843,-16, 850,23, 857,-11, 864,7, 871,-3, 878,15, 885,-20, 892,1,
    903,16, 910,-23, 917,6, 924,-2, 931,25, 938,-9, 945,13, 952,0, 959,-19, 966,21, 973,-5, 980,9, 987,-14, 994,2,
    1006,1, 1013,-20, 1020,15, 1027,-3, 1034,7, 1041,-11, 1048,23, 1055,-16, 1062,4, 1069,11, 1076,-24, 1083,-1, 1090,18, 1097,-7,
    1100,-8, 1108,5, 1115,-13, 1122,20, 1129,-1, 1136,8, 1143,-26, 1150,17, 1157,-10, 1164,3, 1171,26, 1178,-18, 1185,-4, 1192,12,
    1203,1, 1210,-20, 1217,15, 1224,-3, 1231,7, 1238,-11, 1245,23, 1252,-16, 1259,4, 1266,11, 1273,-24, 1280,-1, 1287,18, 1294,-7,
    1306,-8, 1313,5, 1320,-13, 1327,20, 1334,-1, 1341,8, 1348,-26, 1355,17, 1362,-10, 1369,3, 1376,26, 1383,-18, 1390,-4, 1397,12,
    1400,16, 1408,-23, 1415,6, 1422,-2, 1429,25, 1436,-9, 1443,13, 1450,0, 1457,-19, 1464,21, 1471,-5, 1478,9, 1485,-14, 1492,2,
    1503,-8, 1510,5, 1517,-13, 1524,20, 1531,-1, 1538,8, 1545,-26, 1552,17, 1559,-10, 1566,3, 1573,26, 1580,-18, 1587,-4, 1594,12,
    1606,16, 1613,-23, 1620,6, 1627,-2, 1634,25, 1641,-9, 1648,13, 1655,0, 1662,-19, 1669,21, 1676,-5, 1683,9, 1690,-14, 1697,2,
    1700,1, 1708,-20, 1715,15, 1722,-3, 1729,7, 1736,-11, 1743,23, 1750,-16, 1757,4, 1764,11, 1771,-24, 1778,-1, 1785,18, 1792,-7,
    1803,-2, 1810,14, 1817,-9, 1824,5, 1831,-21, 1838,19, 1845,0, 1852,-13, 1859,9, 1866,-25, 1873,2, 1880,-6, 1887,23, 1894,-16,
    1906,7, 1913,-18, 1920,1, 1927,24, 1934,-11, 1941,-4, 1948,16, 1955,-23, 1962,11, 1969,-7, 1976,3, 1983,-15, 1990,20, 1997,-1,
    2000,-12, 2008,4, 2015,18, 2022,-26, 2029,-3, 2036,10, 2043,-17, 2050,26, 2057,-8, 2064,1
];

const coreGreen = [
    9,3, 37,-12, 64,15, 92,-5, 119,8, 147,-17, 174,1, 202,11, 229,-8, 257,19, 284,-2, 312,6, 339,-14, 367,13, 394,-20, 422,4, 449,9, 477,-6, 504,16, 532,-11,
    559,2, 587,-18, 614,12, 642,-3, 669,7, 697,-15, 724,18, 752,-1, 779,10, 807,-9, 834,5, 862,-20, 889,14, 917,0, 944,-7, 972,17, 999,-13, 1027,3, 1054,9, 1082,-4,
    1109,20, 1137,-16, 1164,6, 1192,-2, 1219,12, 1247,-10, 1274,1, 1302,15, 1329,-19, 1357,8, 1384,-5, 1412,11, 1439,-13, 1467,4, 1494,18, 1522,-8, 1549,2, 1577,13, 1604,-17, 1632,7,
    1659,-1, 1687,16, 1714,-11, 1742,5, 1769,-20, 1797,10, 1824,-3, 1852,19, 1879,-14, 1907,1, 1934,12, 1962,-6, 1989,8, 2017,-16, 2044,15,
    5,3, 16,-11, 27,16, 38,-4, 49,8, 60,-17, 71,1, 82,12, 93,-7,
    110,-2, 121,14, 132,-9, 143,5, 154,-19, 165,10, 176,-1, 187,19, 198,-6,
    201,9, 212,-5, 223,0, 234,-14, 245,18, 256,6, 267,-12, 278,2, 289,-8,
    305,-2, 316,14, 327,-9, 338,5, 349,-19, 360,10, 371,-1, 382,19, 393,-6,
    410,9, 421,-5, 432,0, 443,-14, 454,18, 465,6, 476,-12, 487,2, 498,-8,
    501,3, 512,-11, 523,16, 534,-4, 545,8, 556,-17, 567,1, 578,12, 589,-7,
    605,9, 616,-5, 627,0, 638,-14, 649,18, 660,6, 671,-12, 682,2, 693,-8,
    710,3, 721,-11, 732,16, 743,-4, 754,8, 765,-17, 776,1, 787,12, 798,-7,
    801,-2, 812,14, 823,-9, 834,5, 845,-19, 856,10, 867,-1, 878,19, 889,-6,
    905,-7, 916,12, 927,1, 938,-17, 949,8, 960,-4, 971,16, 982,-11, 993,3,
    1010,-6, 1021,19, 1032,-1, 1043,10, 1054,-19, 1065,5, 1076,-9, 1087,14, 1098,-2,
    1101,-8, 1112,2, 1123,-12, 1134,6, 1145,18, 1156,-14, 1167,0, 1178,-5, 1189,9,
    1205,-6, 1216,19, 1227,-1, 1238,10, 1249,-19, 1260,5, 1271,-9, 1282,14, 1293,-2,
    1310,-8, 1321,2, 1332,-12, 1343,6, 1354,18, 1365,-14, 1376,0, 1387,-5, 1398,9,
    1401,-7, 1412,12, 1423,1, 1434,-17, 1445,8, 1456,-4, 1467,16, 1478,-11, 1489,3,
    1505,-8, 1516,2, 1527,-12, 1538,6, 1549,18, 1560,-14, 1571,0, 1582,-5, 1593,9,
    1610,-7, 1621,12, 1632,1, 1643,-17, 1654,8, 1665,-4, 1676,16, 1687,-11, 1698,3,
    1701,-6, 1712,19, 1723,-1, 1734,10, 1745,-19, 1756,5, 1767,-9, 1778,14, 1789,-2,
    1805,-3, 1816,11, 1827,-16, 1838,4, 1849,-8, 1860,17, 1871,-1, 1882,-12, 1893,7,
    1910,2, 1921,-14, 1932,9, 1943,-5, 1954,19, 1965,-10, 1976,1, 1987,-19, 1998,6,
    2001,-9, 2012,5, 2023,0, 2034,14, 2045,-18, 2056,-6
];

const coreLime = [
    48,6, 126,-9, 205,14, 262,2, 341,-12, 418,8, 470,16, 532,-4, 610,11, 690,-14, 748,3, 830,10, 906,-7, 985,13, 1050,-2, 1133,7, 1210,-15, 1288,4,
    1366,12, 1445,-6, 1520,9, 1597,-11, 1680,15, 1758,1, 1840,-8, 1925,11, 2005,-3,
    22,-3, 95,10, 170,-7, 238,4, 305,-13, 377,9, 455,-1, 512,12, 580,-8, 655,2, 725,14, 790,-5, 862,7, 940,-12, 1000,1, 1075,11, 1150,-6,
    1225,8, 1300,-10, 1342,3, 1420,13, 1495,-2, 1570,6, 1640,-14, 1715,9, 1795,-4, 1865,12, 1945,-9, 2030,5, 60,-15, 388,15, 735,-11,
    1180,14, 1610,-1, 1990,10
];

const coreLight = [157,11, 372,-6, 595,5, 820,-10, 1015,8, 1240,2, 1480,-4, 1655,9, 1880,-7, 2040,4];
const coreChartreuse = [1105,-3, 1560,6, 1960,-2];
const coreYellow = [162,-5, 290,5, 333,0, 846,6, 1395,-1, 1790,3];

const xTicks = [0, 500, 1000, 1500, 2000];
const yTicks = [-0.75, -0.5, -0.25, 0, 0.25, 0.5, 0.75];
const xLimits = [-100, 2166];
const yLimits = [-0.932, 0.923];

const slope = -0.0000001;
const slopeErr = 0.0000036;
const intercept = 0.01409;
const interceptErr = 0.00427;

const TITLE = "LensMC CTI-Gal Validation - Exposure 0 - snr (12.171801090240479, 1e+99)";
const X_LABEL = "Readout Register Distance (pix)";
const Y_LABEL = "e1 (detector coordinates)";
const FONT = '"DejaVu Sans", sans-serif';

function toPoints(flat) {
    const pts = [];
    for (let i = 0; i + 1 < flat.length; i += 2) {
        pts.push({ x: flat[i], y: flat[i + 1] / 100 });
    }
    return pts;
}

function scatterSet(label, flat, color, order) {
    return {
        type: "scatter",
        label: label,
        data: toPoints(flat),
        backgroundColor: color,
        borderWidth: 0,
        pointRadius: 2.4,
        pointHoverRadius: 2.4,
        order: order
    };
}

function lineSet(label, yAt, color, width) {
    return {
        type: "line",
        label: label,
        data: xLimits.map((x) => ({ x: x, y: yAt(x) })),
        borderColor: color,
        borderWidth: width,
        pointRadius: 0,
        fill: false,
        order: 0
    };
}

function drawStat(ctx, x, y, head) {
    ctx.font = `16.7px ${FONT}`;
    ctx.fillText(head, x, y);
    let w = ctx.measureText(head).width;
    ctx.font = `italic 16.7px ${FONT}`;
    ctx.fillText("σ", x + w, y);
    w += ctx.measureText("σ").width;
    ctx.font = `16.7px ${FONT}`;
    ctx.fillText(")", x + w, y);
}

// matplotlib-like frame, ticks and texts
const mplAxes = {
    id: "mplAxes",
    afterDraw(chart) {
        const { ctx, chartArea: a, scales } = chart;
        const xs = scales.x, ys = scales.y;
        ctx.save();
        ctx.fillStyle = "#000";
        ctx.strokeStyle = "#000";
        ctx.lineWidth = 1.1;
        ctx.strokeRect(a.left + 0.5, a.top + 0.5, a.right - a.left - 1, a.bottom - a.top - 1);

        ctx.font = `13.9px ${FONT}`;
        ctx.textAlign = "center";
        ctx.textBaseline = "alphabetic";
        xTicks.forEach((v) => {
            const px = xs.getPixelForValue(v);
            ctx.beginPath();
            ctx.moveTo(px, a.bottom);
            ctx.lineTo(px, a.bottom + 4.9);
            ctx.stroke();
            ctx.fillText(String(v), px, a.bottom + 20);
        });
        ctx.textAlign = "right";
        yTicks.forEach((v) => {
            const py = ys.getPixelForValue(v);
            ctx.beginPath();
            ctx.moveTo(a.left - 4.9, py);
            ctx.lineTo(a.left, py);
            ctx.stroke();
            ctx.fillText(v.toFixed(2).replace("-", "\u2212"), a.left - 9.7, py + 5);
        });

        ctx.font = `16.7px ${FONT}`;
        ctx.textAlign = "center";
        ctx.fillText(X_LABEL, (a.left + a.right) / 2, 471);
        ctx.fillText(TITLE, (a.left + a.right) / 2, 17.5);

        ctx.save();
        ctx.translate(18.5, (a.top + a.bottom) / 2);
        ctx.rotate(-Math.PI / 2);
        ctx.fillText(Y_LABEL, 0, 0);
        ctx.restore();

        ctx.textAlign = "left";
        const slopeHead = `slope = ${slope.toFixed(7)} +/- ${slopeErr.toFixed(7)} (${Math.abs(slope / slopeErr).toFixed(1)}`;
        const interHead = `intercept = ${intercept.toFixed(5)} +/- ${interceptErr.toFixed(5)} (${Math.abs(intercept / interceptErr).toFixed(1)}`;
        drawStat(ctx, a.left + 11, 48, slopeHead);
        drawStat(ctx, a.left + 11, 68, interHead);
        ctx.restore();
    }
};

const ctx = document.getElementById("cti-chart").getContext("2d");
new Chart(ctx, {
    type: "scatter",
    data: {
        datasets: [
            lineSet("zero", () => 0, "#000000", 2),
            lineSet("fit upper", (x) => intercept + interceptErr + slope * x, "#ff0000", 1.5),
            lineSet("fit lower", (x) => intercept - interceptErr + slope * x, "#ff0000", 1.5),
            scatterSet("yellow", coreYellow, "#fde725", 1),
            scatterSet("chartreuse", coreChartreuse, "#bddf26", 2),
            scatterSet("light", coreLight, "#7ad151", 3),
            scatterSet("lime", coreLime, "#44bf70", 4),
            scatterSet("green", coreGreen, "#21a386", 5),
            scatterSet("teal", coreTeal.concat(denseTeal), "#27808e", 6),
            scatterSet("steel", coreSteel.concat(denseSteel), "#32658e", 7),
            scatterSet("blue", coreBlue.concat(denseBlue, shoulderBlue, centreBlue), "#3e4a89", 8),
            scatterSet("purple core", corePurple.concat(densePurple, outerPurple), "#46327e", 9),
            scatterSet("purple high", tailHigh, "#46327e", 10),
            scatterSet("purple low", tailLow, "#46327e", 11)
        ]
    },
    options: {
        responsive: false,
        animation: false,
        devicePixelRatio: 1,
        layout: { padding: { left: 78, right: 60, top: 25, bottom: 49 } },
        plugins: { legend: { display: false }, tooltip: { enabled: false }, title: { display: false } },
        scales: {
            x: { type: "linear", min: xLimits[0], max: xLimits[1], display: false },
            y: { type: "linear", min: yLimits[0], max: yLimits[1], display: false }
        }
    },
    plugins: [mplAxes]
});
</script>
</body>
</html>
